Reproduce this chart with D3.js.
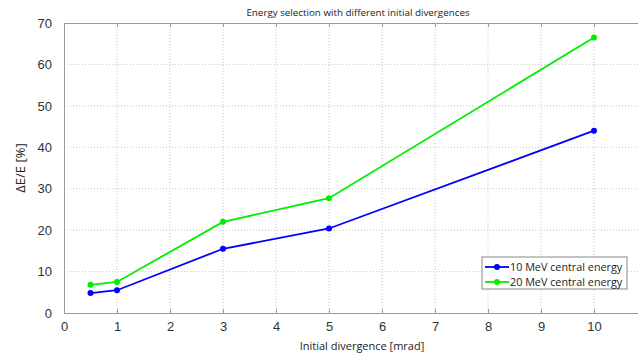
<!DOCTYPE html>
<html>
<head>
<meta charset="utf-8">
<script src="https://cdn.jsdelivr.net/npm/d3@7"></script>
<style>
  body { margin: 0; background: #fff; }
  svg { display: block; font-family: "Open Sans", "DejaVu Sans", sans-serif; }
</style>
</head>
<body>
<svg id="chart" width="638" height="356"></svg>
<script>
const divergence = [0.5, 1, 3, 5, 10]
const energy10 = [4.8, 5.5, 15.5, 20.4, 44.0]
const energy20 = [6.8, 7.5, 22.0, 27.7, 66.5]
const seriesNames = ['10 MeV central energy', '20 MeV central energy']
const seriesColors = ['#0000ff', '#00ee00']
const xTicks = [0, 1, 2, 3, 4, 5, 6, 7, 8, 9, 10]
const yTicks = [0, 10, 20, 30, 40, 50, 60, 70]

const plot = { left: 64, top: 23, right: 647, bottom: 313 }

const svg = d3.select('#chart')

const xScale = d3.scaleLinear().domain([0, 11]).range([plot.left, plot.right])
const yScale = d3.scaleLinear().domain([0, 70]).range([plot.bottom, plot.top])

// grid
svg.append('g')
    .selectAll('line')
    .data(xTicks.filter(d => d > 0))
    .join('line')
    .attr('x1', d => xScale(d)).attr('x2', d => xScale(d))
    .attr('y1', plot.top).attr('y2', plot.bottom)
    .attr('stroke', '#c8c8c8').attr('stroke-dasharray', '1,2')

svg.append('g')
    .selectAll('line')
    .data(yTicks.filter(d => d > 0 && d < 70))
    .join('line')
    .attr('x1', plot.left).attr('x2', plot.right)
    .attr('y1', d => yScale(d)).attr('y2', d => yScale(d))
    .attr('stroke', '#c8c8c8').attr('stroke-dasharray', '1,2')

// axes
const xAxis = d3.axisBottom(xScale).tickValues(xTicks).tickSize(-4).tickPadding(9)
const gx = svg.append('g')
    .attr('transform', `translate(0,${plot.bottom})`)
    .call(xAxis)

const xTop = d3.axisTop(xScale).tickValues(xTicks).tickSize(-4).tickFormat('')
const gxt = svg.append('g')
    .attr('transform', `translate(0,${plot.top})`)
    .call(xTop)

const yAxis = d3.axisLeft(yScale).tickValues(yTicks).tickSize(0).tickPadding(12)
const gy = svg.append('g')
    .attr('transform', `translate(${plot.left},0)`)
    .call(yAxis)

for (const g of [gx, gxt, gy]) {
    g.select('.domain').attr('stroke', '#9a9a9a')
    g.selectAll('.tick line').attr('stroke', '#9a9a9a')
    g.selectAll('.tick text')
        .attr('fill', '#333')
        .style('font-size', '13px')
}

// title and labels
svg.append('text')
    .attr('x', 358).attr('y', 16)
    .attr('text-anchor', 'middle')
    .style('font-size', '9.8px')
    .attr('fill', '#222')
    .text('Energy selection with different initial divergences')

svg.append('text')
    .attr('x', 362).attr('y', 350)
    .attr('text-anchor', 'middle')
    .style('font-size', '11px')
    .attr('fill', '#222')
    .text('Initial divergence [mrad]')

svg.append('text')
    .attr('transform', `translate(25,${yScale(35)}) rotate(-90)`)
    .attr('text-anchor', 'middle')
    .style('font-size', '13px')
    .attr('fill', '#222')
    .text('ΔE/E [%]')

// series
const series = [energy10, energy20].map((vals, i) => ({
    name: seriesNames[i],
    color: seriesColors[i],
    points: vals.map((v, j) => ({ x: divergence[j], y: v }))
}))

const line = d3.line().x(d => xScale(d.x)).y(d => yScale(d.y))

series.forEach(s => {
    svg.append('path')
        .datum(s.points)
        .attr('d', line)
        .attr('fill', 'none')
        .attr('stroke', s.color)
        .attr('stroke-width', 1.8)
    svg.append('g')
        .selectAll('circle')
        .data(s.points)
        .join('circle')
        .attr('cx', d => xScale(d.x))
        .attr('cy', d => yScale(d.y))
        .attr('r', 3)
        .attr('fill', s.color)
})

// legend
const legend = svg.append('g').attr('transform', 'translate(482,257)')
legend.append('rect')
    .attr('width', 145).attr('height', 32)
    .attr('fill', '#fff')
    .attr('stroke', '#888')

series.forEach((s, i) => {
    const row = legend.append('g').attr('transform', `translate(0,${10 + i * 15})`)
    row.append('line')
        .attr('x1', 3).attr('x2', 27)
        .attr('stroke', s.color).attr('stroke-width', 1.8)
    row.append('circle').attr('cx', 15).attr('r', 3).attr('fill', s.color)
    row.append('text')
        .attr('x', 28).attr('y', 4)
        .style('font-size', '10.8px')
        .attr('fill', '#222')
        .text(s.name)
})
</script>
</body>
</html>
